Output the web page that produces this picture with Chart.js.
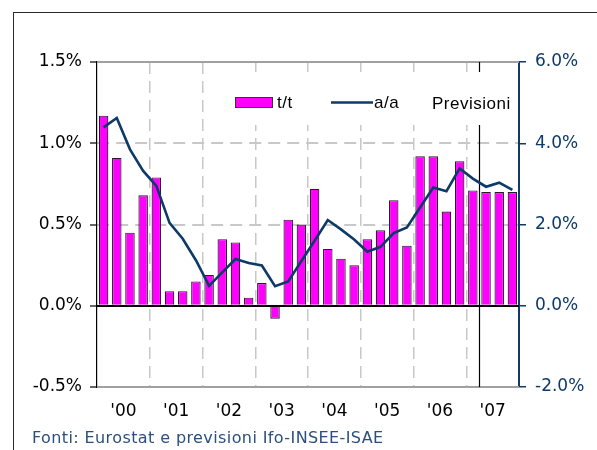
<!DOCTYPE html>
<html>
<head>
<meta charset="utf-8">
<script src="https://cdn.jsdelivr.net/npm/chart.js@4.4.1/dist/chart.umd.min.js"></script>
<style>
  html, body { margin: 0; padding: 0; background: #fff; overflow: hidden; }
  #wrap { position: relative; width: 597px; height: 450px; }
  #frame { position: absolute; left: 13px; top: 12px; width: 1000px; height: 1000px; border: 1px solid #2a2a2a; }
  #chart { position: absolute; left: 0; top: 0; }
  #source { position: absolute; left: 32px; top: 428px; font: 16px "DejaVu Sans", sans-serif; letter-spacing: 0.4px; color: #2b4f80; white-space: nowrap; }
</style>
</head>
<body>
<div id="wrap">
  <div id="frame"></div>
  <canvas id="chart" width="597" height="450"></canvas>
  <div id="source">Fonti: Eurostat e previsioni Ifo-INSEE-ISAE</div>
</div>
<script>
// Eurozona PIL: variazione t/t (sinistra) e a/a (destra), 2000-2007

const quarters = [
  '00Q1','00Q2','00Q3','00Q4','01Q1','01Q2','01Q3','01Q4',
  '02Q1','02Q2','02Q3','02Q4','03Q1','03Q2','03Q3','03Q4',
  '04Q1','04Q2','04Q3','04Q4','05Q1','05Q2','05Q3','05Q4',
  '06Q1','06Q2','06Q3','06Q4','07Q1','07Q2','07Q3','07Q4'
];
const years = ["'00", "'01", "'02", "'03", "'04", "'05", "'06", "'07"];

// t/t, % (left axis)
const ttValues = [
  1.17, 0.91, 0.45, 0.68, 0.79, 0.09, 0.09, 0.15,
  0.19, 0.41, 0.39, 0.05, 0.14, -0.08, 0.53, 0.50,
  0.72, 0.35, 0.29, 0.25, 0.41, 0.465, 0.65, 0.37,
  0.92, 0.92, 0.58, 0.89, 0.71, 0.70, 0.70, 0.70
];
// a/a, % (right axis)
const aaValues = [
  4.39, 4.62, 3.85, 3.32, 2.95, 2.04, 1.65, 1.12,
  0.49, 0.82, 1.15, 1.05, 0.99, 0.48, 0.60, 1.10,
  1.60, 2.11, 1.88, 1.63, 1.33, 1.45, 1.79, 1.93,
  2.42, 2.91, 2.82, 3.38, 3.13, 2.93, 3.03, 2.85
];
const forecastFrom = 29; // first forecast quarter (07Q2)

const navy = '#0d3a68';
const gridGrey = '#c8c8c8';
const tickFont = { family: 'DejaVu Sans', size: 17 };

function hline(ctx, area, y, color, width) {
  ctx.strokeStyle = color;
  ctx.lineWidth = width;
  ctx.beginPath();
  ctx.moveTo(area.left, Math.round(y));
  ctx.lineTo(area.right, Math.round(y));
  ctx.stroke();
}

// plot frame, zero line, forecast divider, white legend panel; legend on top
const overlay = {
  id: 'overlay',
  beforeDatasetsDraw(chart) {
    const { ctx, chartArea, scales } = chart;
    ctx.save();
    ctx.setLineDash([]);
    hline(ctx, chartArea, chartArea.top, '#a0a0a0', 2);
    hline(ctx, chartArea, chartArea.bottom, '#a0a0a0', 2);
    const x = Math.round((scales.x.getPixelForValue(forecastFrom - 1) + scales.x.getPixelForValue(forecastFrom)) / 2) + 0.5;
    ctx.strokeStyle = '#000';
    ctx.lineWidth = 1.2;
    ctx.beginPath();
    ctx.moveTo(x, chartArea.top);
    ctx.lineTo(x, chartArea.bottom);
    ctx.stroke();
    ctx.fillStyle = '#fff';
    ctx.fillRect(225, 72, 290, 53);
    hline(ctx, chartArea, scales.y.getPixelForValue(0), '#000', 2);
    ctx.restore();
  },
  afterDraw(chart) {
    const ctx = chart.ctx;
    ctx.save();
    ctx.font = '17px "Liberation Sans"';
    ctx.letterSpacing = '0.5px';
    ctx.textBaseline = 'middle';
    ctx.fillStyle = '#ff00ff';
    ctx.fillRect(235.5, 97.5, 37, 10);
    ctx.strokeStyle = '#333';
    ctx.lineWidth = 1;
    ctx.strokeRect(235.5, 97.5, 37, 10);
    ctx.fillStyle = '#000';
    ctx.fillText('t/t', 277, 103);
    ctx.strokeStyle = navy;
    ctx.lineWidth = 2.5;
    ctx.beginPath();
    ctx.moveTo(331, 102.5);
    ctx.lineTo(373, 102.5);
    ctx.stroke();
    ctx.fillText('a/a', 374, 103);
    ctx.fillText('Previsioni', 432, 104);
    ctx.restore();
  }
};

new Chart(document.getElementById('chart'), {
  data: {
    labels: quarters,
    datasets: [
      { type: 'line', label: 'a/a', data: aaValues, yAxisID: 'y1', borderColor: navy, borderWidth: 2.6, pointRadius: 0, tension: 0, order: 0 },
      { type: 'bar', label: 't/t', data: ttValues, yAxisID: 'y', backgroundColor: '#ff00ff', borderColor: '#2e1a2e', borderWidth: 1.2, categoryPercentage: 1, barPercentage: 0.72, order: 1 }
    ]
  },
  options: {
    responsive: false,
    animation: false,
    devicePixelRatio: 1,
    layout: { padding: { top: 62, left: 0, right: 0, bottom: 0 } },
    plugins: { legend: { display: false }, tooltip: { enabled: false } },
    scales: {
      x: { display: false, offset: true },
      xYear: {
        type: 'category', labels: years, position: 'bottom', offset: true,
        afterFit: s => { s.height = 63; },
        grid: {
          offset: true, drawTicks: false, lineWidth: 1.5,
          color: c => (c.index === undefined || c.index === 0) ? 'rgba(0,0,0,0)' : gridGrey
        },
        border: { display: false, dash: [12, 7] },
        ticks: { color: '#000', font: tickFont, padding: 14, maxRotation: 0 }
      },
      y: {
        position: 'left', min: -0.5, max: 1.5,
        afterFit: s => { s.width = 97; },
        ticks: { stepSize: 0.5, color: '#000', font: tickFont, padding: 8, callback: v => v.toFixed(1) + '%' },
        grid: { color: gridGrey, lineWidth: 2, tickColor: '#000', tickLength: 7, tickWidth: 1.2, tickBorderDash: [] },
        border: { color: '#000', width: 1.2, dash: [12, 7] }
      },
      y1: {
        position: 'right', min: -2, max: 6,
        afterFit: s => { s.width = 78; },
        ticks: { stepSize: 2, color: navy, font: tickFont, padding: 9, callback: v => v.toFixed(1) + '%' },
        grid: { drawOnChartArea: false, tickColor: navy, tickLength: 7, lineWidth: 1.5 },
        border: { color: navy, width: 2 }
      }
    }
  },
  plugins: [overlay]
});
</script>
</body>
</html>
